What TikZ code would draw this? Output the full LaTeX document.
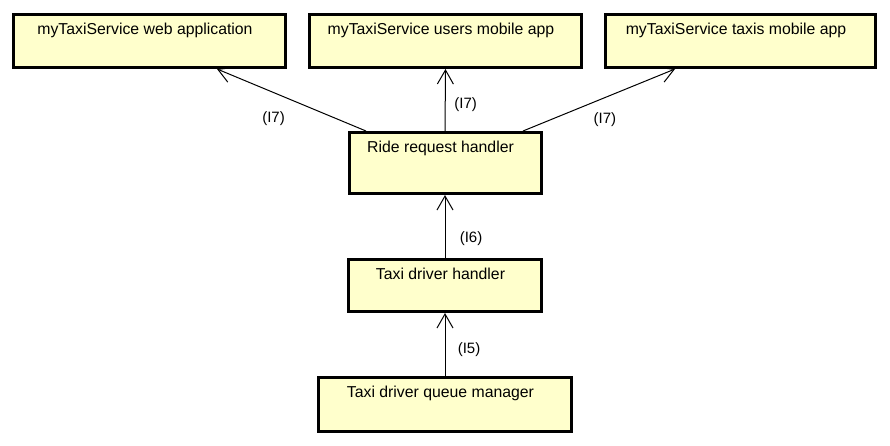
\documentclass[tikz,border=0pt]{standalone}
\usepackage{fontspec}
\setmainfont{Liberation Sans}
\usetikzlibrary{arrows.meta,calc}
\definecolor{boxfill}{HTML}{FFFFCC}
\newcommand{\txtpadright}{\hspace*{9pt}}
\begin{document}
\begin{tikzpicture}[x=1pt,y=-1pt,
  box/.style={draw=black,line width=3pt,fill=boxfill,inner sep=0pt,text height=20pt,
    font=\fontsize{15.8}{18}\selectfont},
  conn/.style={line width=1pt,-{Straight Barb[length=14pt,width=16pt,line width=1pt]}},
  lbl/.style={font=\fontsize{15}{18}\selectfont,inner sep=0pt}]
\useasboundingbox[fill=white] (0,0) rectangle (890,445);
\node[box,minimum width=272pt,minimum height=53pt,text depth=33pt] (web) at (149.5,41) {myTaxiService web application\txtpadright};
\node[box,minimum width=272pt,minimum height=53pt,text depth=33pt] (users) at (445.5,41) {myTaxiService users mobile app\txtpadright};
\node[box,minimum width=270pt,minimum height=53pt,text depth=33pt] (taxis) at (740.5,41) {myTaxiService taxis mobile app\txtpadright};
\node[box,minimum width=192pt,minimum height=61pt,text depth=41pt] (ride) at (445,163) {Ride request handler\txtpadright};
\node[box,minimum width=193pt,minimum height=52pt,text depth=32pt] (driver) at (445,285.5) {Taxi driver handler\txtpadright};
\node[box,minimum width=253pt,minimum height=54pt,text depth=34pt] (queue) at (445,404.5) {Taxi driver queue manager\txtpadright};
\draw[conn] ([xshift=-79pt]ride.north) -- ([xshift=67.5pt]web.south)
  node[lbl,pos=0.2,xshift=-62.7pt] {(I7)};
\draw[conn] (ride.north) -- (users.south)
  node[lbl,pos=0.43,xshift=20.5pt] {(I7)};
\draw[conn] ([xshift=78pt]ride.north) -- ([xshift=-65.5pt]taxis.south)
  node[lbl,pos=0.177,xshift=55pt] {(I7)};
\draw[conn] (driver.north) -- (ride.south)
  node[lbl,pos=0.3,xshift=26pt] {(I6)};
\draw[conn] (queue.north) -- (driver.south)
  node[lbl,pos=0.42,xshift=24pt] {(I5)};
\end{tikzpicture}
\end{document}
